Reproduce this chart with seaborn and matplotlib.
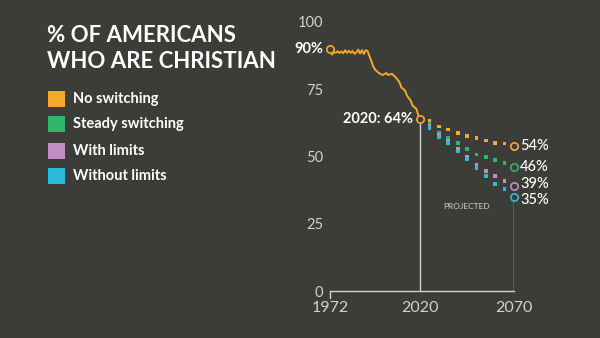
import matplotlib
matplotlib.use("Agg")
import matplotlib.pyplot as plt
from matplotlib.patches import Rectangle
import seaborn as sns
import pandas as pd

# ---------------- data ----------------
hist_years = [1972, 1973, 1974, 1975, 1976, 1977, 1978, 1979, 1980, 1981, 1982,
              1983, 1984, 1985, 1986, 1987, 1988, 1989, 1990, 1991, 1992,
              1994, 1995, 1996, 1998, 2000, 2002, 2003, 2005, 2007, 2009,
              2010, 2012, 2013, 2015, 2016, 2018, 2019, 2020]
hist_values = [90.0, 87.9, 88.7, 88.6, 89.1, 88.5, 89.0, 88.4, 89.5, 88.5, 89.3,
               88.5, 89.2, 88.2, 88.6, 89.7, 88.3, 89.5, 88.1, 89.5, 89.2,
               85.5, 83.5, 82.3, 81.0, 80.3, 81.0, 80.3, 80.7, 79.4, 77.6,
               75.7, 74.5, 72.6, 70.7, 68.9, 67.7, 65.4, 64.0]

proj_years = [2025, 2030, 2035, 2040, 2045, 2050, 2055, 2060, 2065]
no_switching = [63.2, 61.1, 60.0, 58.7, 57.7, 56.9, 55.9, 55.0, 54.8]
steady_switching = [62.1, 58.8, 56.8, 54.9, 52.9, 50.8, 49.8, 48.8, 47.7]
with_limits = [61.3, 58.0, 55.9, 52.9, 49.8, 46.8, 44.7, 42.8, 40.8]
without_limits = [60.6, 57.3, 55.0, 51.9, 49.0, 45.8, 42.8, 39.8, 37.8]

end_year = 2070
scenarios = ["No switching", "Steady switching", "With limits", "Without limits"]
end_values = [54, 46, 39, 35]
end_labels = ["54%", "46%", "39%", "35%"]

y_ticks = [0, 25, 50, 75, 100]
x_ticks = [1972, 2020, 2070]

# ---------------- style ----------------
BG = "#3c3d38"
TXT = "#ffffff"
GREY = "#d2d2cc"
colors = {"No switching": "#f4a92a",
          "Steady switching": "#2fb56c",
          "With limits": "#c48dc6",
          "Without limits": "#2dbad8"}

sns.set_theme(style="dark")
plt.rcParams["font.family"] = ["Lato", "DejaVu Sans"]

fig = plt.figure(figsize=(6, 3.38), dpi=100)
fig.patch.set_facecolor(BG)
ax = fig.add_axes([0.55, 0.139, 0.3067, 0.796])
ax.set_facecolor(BG)

hist_df = pd.DataFrame({"year": hist_years, "value": hist_values})
sns.lineplot(data=hist_df, x="year", y="value", ax=ax, color=colors["No switching"],
             linewidth=1.4, zorder=3)

proj_series = [no_switching, steady_switching, with_limits, without_limits]
proj_df = pd.concat([pd.DataFrame({"year": proj_years, "value": vals, "scenario": s})
                     for s, vals in zip(scenarios, proj_series)], ignore_index=True)
sns.scatterplot(data=proj_df, x="year", y="value", hue="scenario", palette=colors,
                marker="s", s=7, linewidth=0, ax=ax, legend=False, zorder=4)

# vertical guide lines
ax.vlines(2020, 0, hist_values[-1], color=GREY, linewidth=1.0, zorder=2)
ax.vlines(end_year, 0, min(end_values), color=GREY, linewidth=1.0, zorder=2)

# open circles
for sc, v in zip(scenarios, end_values):
    ax.scatter([end_year], [v], s=28, facecolors=BG, edgecolors=colors[sc],
               linewidths=1.2, zorder=6, clip_on=False)
ax.scatter([hist_years[0], hist_years[-1]], [hist_values[0], hist_values[-1]], s=28,
           facecolors=BG, edgecolors=colors["No switching"], linewidths=1.2, zorder=6,
           clip_on=False)

# labels
label_offsets = [0, 0, 1.5, -2.5]
for v, lab, dy in zip(end_values, end_labels, label_offsets):
    ax.annotate(lab, (end_year, v), xytext=(4.5, dy), textcoords="offset points",
                va="center", ha="left", color=TXT, fontsize=10.5, fontweight="medium")
ax.annotate("90%", (hist_years[0], hist_values[0]), xytext=(-5, 0),
            textcoords="offset points", va="center", ha="right", color=TXT,
            fontsize=10.5, fontweight="bold")
ax.annotate("2020: 64%", (2020, hist_values[-1]), xytext=(-5, 0),
            textcoords="offset points", va="center", ha="right", color=TXT,
            fontsize=10.5, fontweight="bold")
ax.text(2044.5, 31.5, "PROJECTED", color=GREY, fontsize=6, ha="center", va="center")

# axes
ax.set_xlim(1972, 2070)
ax.set_ylim(0, 100)
ax.set_xticks(x_ticks)
ax.set_yticks(y_ticks)
ax.set_xlabel("")
ax.set_ylabel("")
ax.grid(False)
for side in ["top", "right", "left"]:
    ax.spines[side].set_visible(False)
ax.spines["bottom"].set_visible(True)
ax.spines["bottom"].set_color(GREY)
ax.spines["bottom"].set_linewidth(1.0)
ax.tick_params(axis="y", length=0, pad=5, labelcolor=GREY, labelsize=10.5)
ax.tick_params(axis="x", length=0, pad=7, labelcolor=GREY, labelsize=11.5)
ax.plot([1972, 1972], [0, -2.5], color=GREY, linewidth=1.0, clip_on=False)

# title
fig.text(0.078, 0.877, "% OF AMERICANS", color=TXT, fontsize=16, fontweight="bold",
         ha="left", va="baseline")
fig.text(0.078, 0.799, "WHO ARE CHRISTIAN", color=TXT, fontsize=16, fontweight="bold",
         ha="left", va="baseline")

# legend
leg_y = [99, 124, 151, 176]
for sc, yc in zip(scenarios, leg_y):
    fig.patches.append(Rectangle((48.5 / 600, (338 - yc - 8) / 338), 16 / 600, 16 / 338,
                                 transform=fig.transFigure, facecolor=colors[sc],
                                 edgecolor="none"))
    fig.text(73 / 600, (338 - yc) / 338, sc, color=TXT, fontsize=10.5,
             fontweight="bold", ha="left", va="center")

fig.savefig("out.png", dpi=100, facecolor=BG)
